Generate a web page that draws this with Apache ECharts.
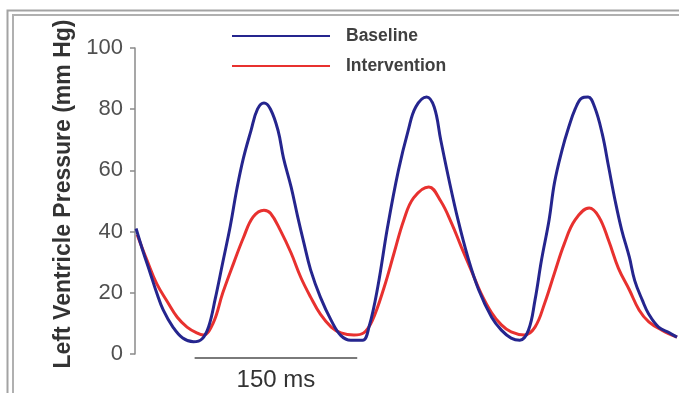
<!DOCTYPE html>
<html>
<head>
<meta charset="utf-8">
<title>Left Ventricle Pressure</title>
<script src="https://cdn.jsdelivr.net/npm/echarts@6/dist/echarts.min.js"></script>
<style>
  html, body { margin: 0; padding: 0; background: #fff; }
  #chart { width: 679px; height: 393px; }
</style>
</head>
<body>
<div id="chart"></div>
<script>
// data (time in ms, pressure in mm Hg)
const baselineTime = [1, 7, 14, 20, 26, 35, 44, 54, 62, 68, 74, 81, 88, 94, 100, 107, 113, 119, 125, 132,
  137, 144, 150, 156, 162, 171, 181, 190, 199, 210, 216, 224, 233, 243, 252, 259, 269, 276, 282, 289,
  298, 307, 317, 329, 338, 347, 355, 363, 369, 375, 382, 387, 394, 400, 406, 412, 418, 424, 431, 437,
  443, 449, 456, 461, 468, 474, 483, 493, 500];
const baselinePressure = [41, 34, 26.5, 20, 14.4, 8.8, 5.2, 4, 5, 9, 18, 30, 42, 54, 64, 73, 80, 82, 80, 73,
  64, 54.6, 45, 36, 27.5, 18.6, 11, 6, 4.5, 4.5, 9, 22, 41.5, 60, 73, 80.7, 84, 80.7, 70, 58,
  43.8, 31.7, 21, 12, 7.8, 5.2, 4.5, 7.8, 17.6, 30.7, 43.8, 56, 66.7, 74, 80, 83.6, 84, 80.7, 72, 61,
  50, 40.5, 31.7, 24, 17.6, 13, 8.8, 6.9, 5.5];

const interventionTime = [2, 11, 20, 30, 39, 48, 57, 63, 72, 81, 91, 100, 109, 119, 125, 134, 144, 153, 162, 171,
  181, 190, 202, 211, 219, 230, 239, 248, 257, 271, 282, 292, 301, 310, 319, 329, 338, 347, 359, 369,
  378, 387, 396, 406, 419, 428, 437, 446, 456, 465, 474, 486, 500];
const interventionPressure = [39, 30.7, 23, 17, 12, 8.8, 6.9, 6.2, 10, 20, 29.7, 38, 44.8, 47, 46, 40.5, 33, 25, 18.6, 13,
  8.8, 6.9, 6.2, 6.9, 11, 22, 33, 43.8, 51, 54.6, 50, 42.8, 35, 27.5, 20, 13.5, 9.5, 7.2, 6.2, 8.8,
  16.7, 26.5, 36, 43.8, 47.7, 44.8, 37, 28, 21, 14.4, 10.5, 7.8, 5.5];

const yTicks = [0, 20, 40, 60, 80, 100];
const scaleBarStart = 55;     // ms
const scaleBarLength = 150;   // ms
const scaleBarLevel = -1.3;   // mm Hg, just under the axis
const scaleBarLabel = '150 ms';

const fontFamily = 'Liberation Sans, Arial, sans-serif';

function pairs(xs, ys) {
  return xs.map((x, i) => [x, ys[i]]);
}

const chart = echarts.init(document.getElementById('chart'));

chart.setOption({
  animation: false,
  backgroundColor: '#fff',
  textStyle: { fontFamily: fontFamily },
  grid: { left: 135, right: 2, top: 48, bottom: 39 },
  legend: {
    orient: 'vertical',
    left: 227,
    top: 22,
    icon: 'rect',
    itemWidth: 98,
    itemHeight: 2,
    itemGap: 12,
    textStyle: {
      fontFamily: fontFamily,
      fontSize: 17.5,
      fontWeight: 'bold',
      color: '#404040',
      padding: [0, 0, 0, 11]
    },
    data: ['Baseline', 'Intervention']
  },
  xAxis: {
    type: 'value',
    min: 0,
    max: 500,
    show: false
  },
  yAxis: {
    type: 'value',
    min: yTicks[0],
    max: yTicks[yTicks.length - 1],
    interval: 20,
    name: 'Left Ventricle Pressure (mm Hg)',
    nameLocation: 'middle',
    nameRotate: 90,
    nameGap: 58,
    nameTextStyle: {
      fontFamily: fontFamily,
      fontSize: 23,
      fontWeight: 'bold',
      color: '#333',
      padding: [0, 0, 0, 14]
    },
    axisLine: { show: true, lineStyle: { color: '#8a8a8a', width: 1.5 } },
    axisTick: { show: true, length: 5, lineStyle: { color: '#8a8a8a', width: 1.5 } },
    axisLabel: { fontFamily: fontFamily, fontSize: 22, color: '#505050', margin: 12 },
    splitLine: { show: false }
  },
  series: [
    {
      name: 'Baseline',
      type: 'line',
      data: pairs(baselineTime, baselinePressure),
      smooth: 0.4,
      showSymbol: false,
      color: '#25258e',
      lineStyle: { width: 3, color: '#25258e' },
      z: 3
    },
    {
      name: 'Intervention',
      type: 'line',
      data: pairs(interventionTime, interventionPressure),
      smooth: 0.4,
      showSymbol: false,
      color: '#e8312f',
      lineStyle: { width: 3, color: '#e8312f' },
      z: 2
    }
  ],
  graphic: [
    {
      id: 'frameOuter',
      type: 'rect',
      silent: true,
      shape: { x: 7.5, y: 10.5, width: 720, height: 420 },
      style: { fill: null, stroke: '#a3a3a3', lineWidth: 2 }
    },
    {
      id: 'frameInner',
      type: 'rect',
      silent: true,
      shape: { x: 13, y: 15, width: 720, height: 420 },
      style: { fill: null, stroke: '#b0b0b0', lineWidth: 2 }
    }
  ]
});

// scale bar placed through the chart's own axes
const p0 = chart.convertToPixel({ xAxisIndex: 0, yAxisIndex: 0 }, [scaleBarStart, scaleBarLevel]);
const p1 = chart.convertToPixel({ xAxisIndex: 0, yAxisIndex: 0 }, [scaleBarStart + scaleBarLength, scaleBarLevel]);

chart.setOption({
  graphic: [
    {
      id: 'scaleBar',
      type: 'line',
      silent: true,
      shape: { x1: p0[0], y1: p0[1], x2: p1[0], y2: p1[1] },
      style: { stroke: '#7a7a7a', lineWidth: 2 }
    },
    {
      id: 'scaleBarText',
      type: 'text',
      silent: true,
      x: (p0[0] + p1[0]) / 2,
      y: p0[1] + 22,
      style: {
        text: scaleBarLabel,
        fontFamily: fontFamily,
        fontSize: 24,
        fill: '#333',
        align: 'center',
        verticalAlign: 'middle'
      }
    }
  ]
});
</script>
</body>
</html>
